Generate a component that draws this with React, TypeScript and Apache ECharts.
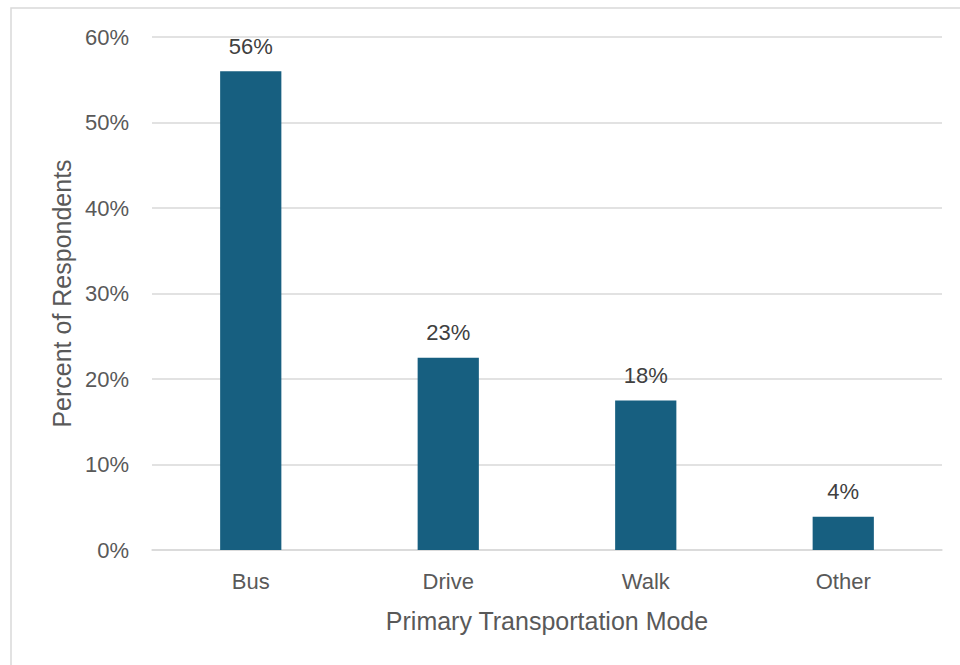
import React, { useEffect, useRef } from "react";
import * as echarts from "echarts";

const categories = ["Bus", "Drive", "Walk", "Other"];
const shares = [56.0, 22.5, 17.5, 3.9];
const yTicks = [0, 10, 20, 30, 40, 50, 60];

const FONT = "'Liberation Sans', Arial, sans-serif";

export default function App() {
  const ref = useRef<HTMLDivElement>(null);

  useEffect(() => {
    if (!ref.current) return;
    const chart = echarts.init(ref.current, undefined, { renderer: "svg" });
    chart.setOption({
      animation: false,
      backgroundColor: "#ffffff",
      textStyle: { fontFamily: FONT },
      graphic: [
        {
          type: "rect",
          shape: { x: 11, y: 8, width: 1000, height: 1000 },
          style: { fill: "none", stroke: "#d9d9d9", lineWidth: 1.5 },
          silent: true,
        },
      ],
      grid: {
        left: 152,
        right: 18,
        top: 37,
        bottom: 115,
        containLabel: false,
        outerBoundsMode: "none",
      },
      xAxis: {
        type: "category",
        data: categories,
        axisLine: { show: true, lineStyle: { color: "#d9d9d9", width: 1.5 } },
        axisTick: { show: false },
        axisLabel: { color: "#595959", fontSize: 22, margin: 20, fontFamily: FONT },
        name: "Primary Transportation Mode",
        nameLocation: "middle",
        nameGap: 58,
        nameTextStyle: { color: "#595959", fontSize: 25, fontFamily: FONT },
      },
      yAxis: {
        type: "value",
        min: yTicks[0],
        max: yTicks[yTicks.length - 1],
        interval: 10,
        axisLine: { show: false },
        axisTick: { show: false },
        axisLabel: {
          color: "#595959",
          fontSize: 22,
          margin: 23,
          fontFamily: FONT,
          formatter: (v: number) => `${v}%`,
        },
        splitLine: { lineStyle: { color: "#d9d9d9", width: 1.5 } },
        name: "Percent of Respondents",
        nameLocation: "middle",
        nameGap: 78,
        nameTextStyle: { color: "#595959", fontSize: 25, fontFamily: FONT },
      },
      series: [
        {
          type: "bar",
          data: shares,
          barWidth: "31%",
          itemStyle: { color: "#175f80" },
          label: {
            show: true,
            position: "top",
            distance: 14,
            color: "#404040",
            fontSize: 22,
            fontFamily: FONT,
            formatter: (p: any) => `${Math.round(p.value)}%`,
          },
        },
      ],
    });
    return () => chart.dispose();
  }, []);

  return (
    <div
      ref={ref}
      style={{ position: "fixed", left: 0, top: 0, width: 960, height: 665 }}
    />
  );
}
